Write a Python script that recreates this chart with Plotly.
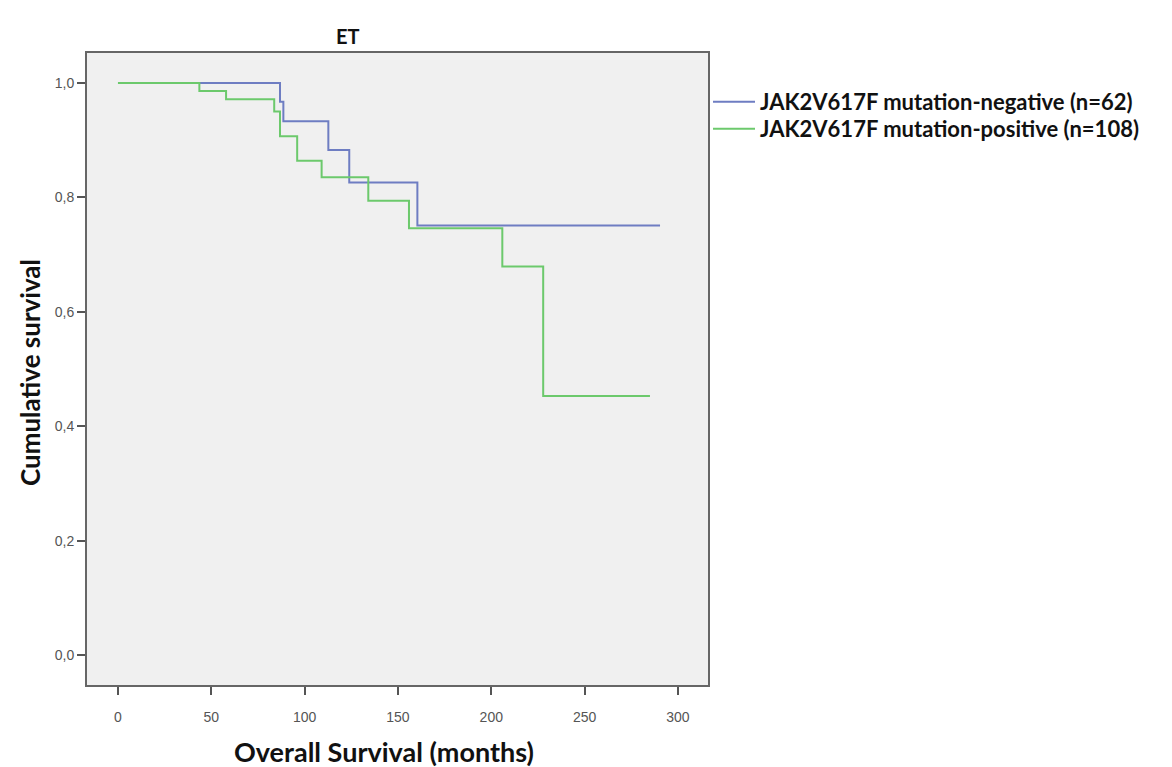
import plotly.graph_objects as go

# Kaplan-Meier step data (months, cumulative survival)
neg_time = [0, 86.8, 88.6, 112.7, 123.9, 160.4, 290.4]
neg_surv = [1.0, 0.967, 0.933, 0.883, 0.826, 0.751, 0.751]

pos_time = [0, 43.6, 57.9, 83.7, 86.8, 96.0, 109.1, 134.1, 155.9, 205.9, 227.8, 285.0]
pos_surv = [1.0, 0.986, 0.9715, 0.95, 0.907, 0.864, 0.835, 0.794, 0.746, 0.679, 0.453, 0.453]

series_names = ["JAK2V617F mutation-negative (n=62)", "JAK2V617F mutation-positive (n=108)"]

x_ticks = [0, 50, 100, 150, 200, 250, 300]
y_ticks = [0.0, 0.2, 0.4, 0.6, 0.8, 1.0]
y_tick_text = ["0,0", "0,2", "0,4", "0,6", "0,8", "1,0"]

fig = go.Figure()
fig.add_trace(go.Scatter(x=neg_time, y=neg_surv, mode="lines", line_shape="hv",
                         line=dict(color="#6E7DC2", width=2), name=series_names[0],
                         legend="legend"))
fig.add_trace(go.Scatter(x=pos_time, y=pos_surv, mode="lines", line_shape="hv",
                         line=dict(color="#6CC96C", width=2), name=series_names[1],
                         legend="legend2"))

# page body has an 8px margin, so the plot box is offset accordingly
L, T, R, B = 79, 45, 700, 677
W, H = 1172, 767
pw, ph = R - L, B - T

leg_font = dict(family="Lato", size=22, color="#111", weight="bold")

fig.update_layout(
    width=W, height=H,
    margin=dict(l=L, r=W - R, t=T, b=H - B),
    paper_bgcolor="white",
    plot_bgcolor="#F0F0F0",
    font=dict(family="Lato", color="#111"),
    showlegend=True,
    legend=dict(x=1.0, xanchor="left", y=1 - (102 - 53) / ph, yanchor="middle",
                font=leg_font, bgcolor="rgba(0,0,0,0)", itemwidth=42,
                borderwidth=0, tracegroupgap=0),
    legend2=dict(x=1.0, xanchor="left", y=1 - (129 - 53) / ph, yanchor="middle",
                 font=leg_font, bgcolor="rgba(0,0,0,0)", itemwidth=42,
                 borderwidth=0, tracegroupgap=0),
    annotations=[
        dict(text="<b>ET</b>", x=(348 - 87) / pw, y=1 + (53 - 36) / ph,
             xref="paper", yref="paper", showarrow=False, yanchor="middle",
             font=dict(family="Lato", size=20, color="#111")),
        dict(text="<b>Overall Survival (months)</b>", x=(384 - 87) / pw,
             y=(685 - 752) / ph, xref="paper", yref="paper", showarrow=False,
             yanchor="middle", font=dict(family="Lato", size=27, color="#111")),
        dict(text="<b>Cumulative survival</b>", x=(30 - 87) / pw,
             y=(685 - 373) / ph, xref="paper", yref="paper", showarrow=False,
             textangle=-90, xanchor="center", yanchor="middle",
             font=dict(family="Lato", size=26, color="#111")),
    ],
)

fig.update_xaxes(range=[-16.6, 316.1], tickvals=x_ticks, ticks="outside", ticklen=8,
                 tickwidth=2, tickcolor="#555", showgrid=False, zeroline=False,
                 showline=True, linecolor="#666", linewidth=2, mirror=True,
                 tickfont=dict(family="Liberation Sans", size=14, color="#555"),
                 ticklabelstandoff=10)
fig.update_yaxes(range=[-0.0524, 1.0524], tickvals=y_ticks, ticktext=y_tick_text,
                 ticks="outside", ticklen=8, tickwidth=2, tickcolor="#555",
                 showgrid=False, zeroline=False,
                 showline=True, linecolor="#666", linewidth=2, mirror=True,
                 tickfont=dict(family="Liberation Sans", size=14, color="#555"))

fig.write_html("out.html")
